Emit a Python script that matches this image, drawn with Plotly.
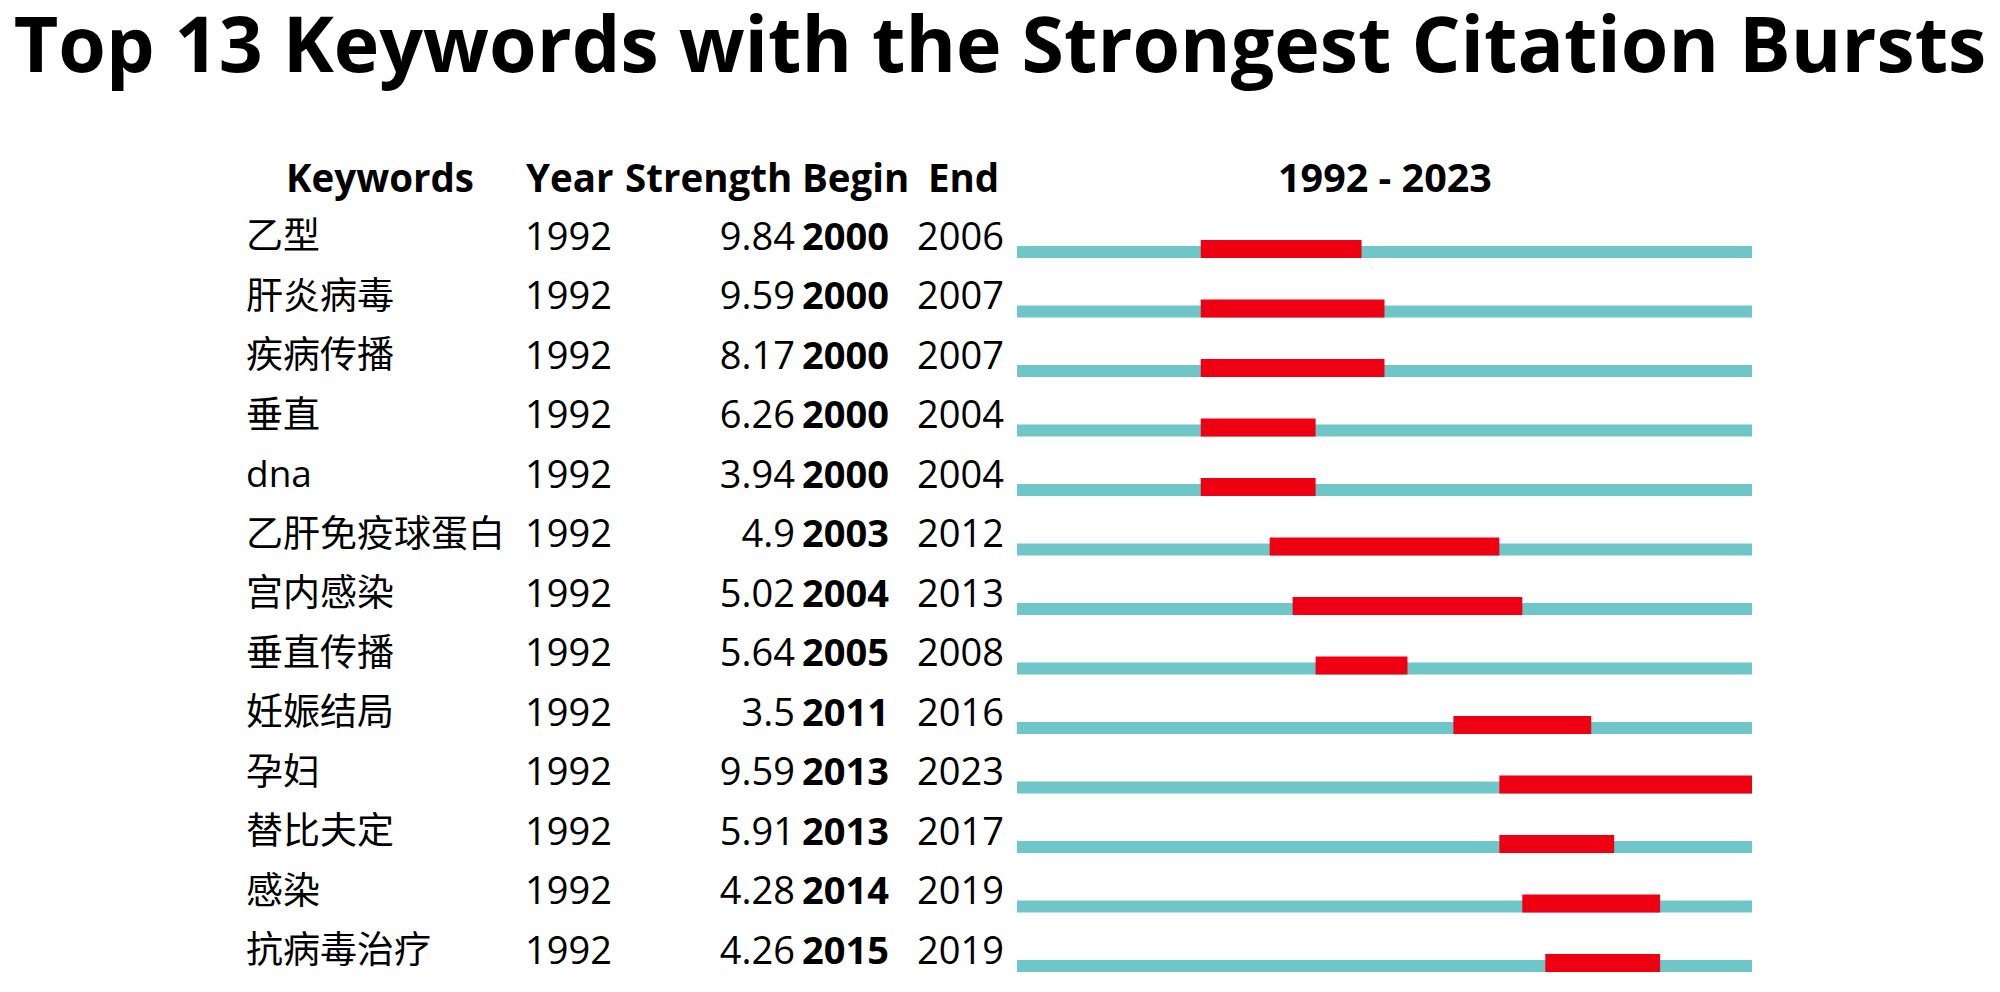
import plotly.graph_objects as go

keywords = ["乙型", "肝炎病毒", "疾病传播", "垂直", "dna", "乙肝免疫球蛋白", "宫内感染",
            "垂直传播", "妊娠结局", "孕妇", "替比夫定", "感染", "抗病毒治疗"]
year = [1992] * 13
strength = [9.84, 9.59, 8.17, 6.26, 3.94, 4.9, 5.02, 5.64, 3.5, 9.59, 5.91, 4.28, 4.26]
begin = [2000, 2000, 2000, 2000, 2000, 2003, 2004, 2005, 2011, 2013, 2013, 2014, 2015]
end = [2006, 2007, 2007, 2004, 2004, 2012, 2013, 2008, 2016, 2023, 2017, 2019, 2019]
start_year, end_year = 1992, 2023
headers = ["Keywords", "Year", "Strength", "Begin", "End"]
title_text = "Top 13 Keywords with the Strongest Citation Bursts"

W, H = 2000, 992
DX = -8  # compensate page body margin
ROW0_PX, ROW_PX = 228, 59.5
ymax = ROW0_PX / ROW_PX
ymin = -(H - ROW0_PX) / ROW_PX

FONT = "Open Sans, Noto Sans CJK SC, sans-serif"
FS = 38
HFS = 38.5
CYAN = "#6FC6C8"
RED = "#EE0012"

rows = [-i for i in range(len(keywords))]

fig = go.Figure()

# background timeline bars
fig.add_trace(go.Bar(
    orientation="h", y=rows, base=[start_year] * len(rows),
    x=[end_year + 1 - start_year] * len(rows),
    width=12 / ROW_PX, offset=-22 / ROW_PX,
    marker=dict(color=CYAN, line=dict(width=0)),
    xaxis="x2", yaxis="y", hoverinfo="skip", showlegend=False))

# burst bars
fig.add_trace(go.Bar(
    orientation="h", y=rows, base=begin,
    x=[e + 1 - b for b, e in zip(begin, end)],
    width=18 / ROW_PX, offset=-22 / ROW_PX,
    marker=dict(color=RED, line=dict(width=0)),
    xaxis="x2", yaxis="y", hoverinfo="skip", showlegend=False))

TEXT_DY = -4 / ROW_PX

def col(texts, xpx, anchor, bold=False, size=FS):
    fig.add_trace(go.Scatter(
        x=[xpx + DX] * len(texts), y=[r + TEXT_DY for r in rows], mode="text",
        text=[f"<b>{t}</b>" if bold else str(t) for t in texts],
        textposition="middle right" if anchor == "left" else "middle left",
        textfont=dict(family=FONT, size=size, color="black"),
        xaxis="x", yaxis="y", hoverinfo="skip", showlegend=False, cliponaxis=False))

col(keywords, 246, "left", size=37)
col(year, 525, "left")
col(strength, 795, "right")
col(begin, 802, "left", bold=True)
col(end, 917, "left")

HEAD_Y = (ROW0_PX - 169) / ROW_PX
header_x = [380, 570, 708, 855, 963]
for h, hx in zip(headers, header_x):
    fig.add_annotation(x=hx + DX, y=HEAD_Y, xref="x", yref="y",
                       text=f"<b>{h}</b>", showarrow=False, xanchor="center", yanchor="middle",
                       font=dict(family=FONT, size=HFS, color="black"))
fig.add_annotation(x=(start_year + end_year + 1) / 2, y=HEAD_Y,
                   xref="x2", yref="y",
                   text=f"<b>{start_year} - {end_year}</b>", showarrow=False,
                   xanchor="center", yanchor="middle",
                   font=dict(family=FONT, size=HFS + 1, color="black"))

fig.update_layout(
    width=W, height=H,
    margin=dict(l=0, r=0, t=0, b=0),
    paper_bgcolor="white", plot_bgcolor="white",
    barmode="overlay",
    title=dict(text=f"<b>{title_text}</b>", x=(W / 2 + DX) / W, xanchor="center",
               y=1 - 37 / H, yanchor="middle",
               font=dict(family=FONT, size=77, color="black")),
    xaxis=dict(range=[0, W], domain=[0, 1], visible=False, fixedrange=True),
    xaxis2=dict(range=[start_year, end_year + 1],
                domain=[(1017 + DX) / W, (1752 + DX) / W],
                anchor="y", visible=False, fixedrange=True),
    yaxis=dict(range=[ymin, ymax], visible=False, fixedrange=True),
)

fig.write_html("out.html")
